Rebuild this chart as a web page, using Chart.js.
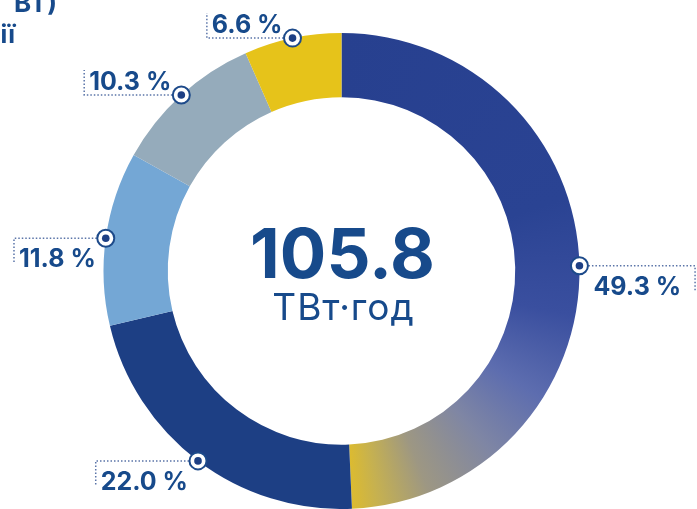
<!DOCTYPE html>
<html>
<head>
<meta charset="utf-8">
<script src="https://cdn.jsdelivr.net/npm/chart.js@4"></script>
<style>
  html, body { margin: 0; padding: 0; background: #ffffff; }
  #wrap { width: 697px; height: 509px; position: relative; overflow: hidden; }
</style>
</head>
<body>
<div id="wrap"><canvas id="c" width="697" height="509"></canvas></div>
<script>
// ---- data ----
const categories = ["Segment A", "Segment B", "Segment C", "Segment D", "Segment E"];
const shares = [49.3, 22.0, 11.8, 10.3, 6.6];
const shareLabels = ["49.3 %", "22.0 %", "11.8 %", "10.3 %", "6.6 %"];
const totalValue = "105.8";
const totalUnit = "ТВт·год";
const titleFragments = ["ВТ)", "ії"];

// ---- styles ----
const TEXT = "#174a8b";
const solidColors = [null, "#1d3f84", "#74a7d5", "#95abbb", "#e6c31a"];
const FONT = "Inter, 'DejaVu Sans', sans-serif";

function bigGradient(ctx, x, y) {
  const g = ctx.createConicGradient(-Math.PI / 2, x, y);
  g.addColorStop(0.00, "#27408f");
  g.addColorStop(0.20, "#2a4393");
  g.addColorStop(0.28, "#3a4f9f");
  g.addColorStop(0.34, "#5d6daf");
  g.addColorStop(0.39, "#7f86a4");
  g.addColorStop(0.44, "#9d9783");
  g.addColorStop(0.475, "#c6b150");
  g.addColorStop(0.493, "#dcbb30");
  g.addColorStop(0.50, "#dcbb30");
  g.addColorStop(1.00, "#dcbb30");
  return g;
}

const overlay = {
  id: "overlay",
  afterDatasetsDraw(chart) {
    const ctx = chart.ctx;
    const meta = chart.getDatasetMeta(0);
    const first = meta.data[0];
    const cx = first.x, cy = first.y, R = first.outerRadius;

    ctx.save();
    // center text
    ctx.fillStyle = TEXT;
    ctx.textAlign = "center";
    ctx.textBaseline = "alphabetic";
    ctx.font = "bold 69px " + FONT;
    ctx.fillText(totalValue, cx + 1, cy + 7);
    ctx.font = "37px " + FONT;
    ctx.letterSpacing = "1px";
    ctx.fillText(totalUnit, cx + 2, cy + 49);
    ctx.letterSpacing = "0px";

    // labels
    meta.data.forEach((arc, i) => {
      const mid = (arc.startAngle + arc.endAngle) / 2;
      const mx = cx + Math.cos(mid) * R;
      const my = cy + Math.sin(mid) * R;
      const right = mx > cx + 10;
      const above = my < cy - R * 0.5;
      ctx.font = "bold 25px " + FONT;
      const tw = ctx.measureText(shareLabels[i]).width;
      const L = right ? tw + 28 : tw + 15;
      const ex = right ? mx + L : mx - L;
      const vy = above ? my - 25 : my + 25;

      ctx.save();
      ctx.strokeStyle = "#5a74a8";
      ctx.lineWidth = 1.5;
      ctx.setLineDash([1.5, 2]);
      ctx.beginPath();
      ctx.moveTo(right ? mx + 9 : mx - 9, my);
      ctx.lineTo(ex, my);
      ctx.lineTo(ex, vy);
      ctx.stroke();
      ctx.restore();

      // marker
      ctx.beginPath();
      ctx.arc(mx, my, 8.5, 0, Math.PI * 2);
      ctx.fillStyle = "#ffffff";
      ctx.fill();
      ctx.lineWidth = 2;
      ctx.strokeStyle = "#1d4a8a";
      ctx.stroke();
      ctx.beginPath();
      ctx.arc(mx, my, 3.8, 0, Math.PI * 2);
      ctx.fillStyle = "#1d3f84";
      ctx.fill();

      ctx.fillStyle = TEXT;
      ctx.textAlign = "left";
      const tx = right ? mx + 14 : ex + 5;
      const ty = above ? my - 5 : my + 29;
      ctx.fillText(shareLabels[i], tx, ty);
    });

    // cropped title fragments
    ctx.fillStyle = TEXT;
    ctx.textAlign = "right";
    ctx.font = "bold 26px " + FONT;
    ctx.fillText(titleFragments[0], 57, 12);
    ctx.font = "bold 25px " + FONT;
    ctx.fillText(titleFragments[1], 15, 43);
    ctx.restore();
  }
};

new Chart(document.getElementById("c"), {
  type: "doughnut",
  data: {
    labels: categories,
    datasets: [{
      data: shares,
      backgroundColor(c) {
        if (c.dataIndex === 0) {
          const area = c.chart.chartArea;
          if (!area) return "#27408f";
          return bigGradient(c.chart.ctx, (area.left + area.right) / 2, (area.top + area.bottom) / 2);
        }
        return solidColors[c.dataIndex];
      },
      borderWidth: 0,
      hoverOffset: 0,
      offset: 0
    }]
  },
  options: {
    responsive: false,
    devicePixelRatio: 1,
    animation: false,
    events: [],
    cutout: "73%",
    layout: { padding: { top: 33, bottom: 0, left: 0, right: 14 } },
    plugins: { legend: { display: false }, tooltip: { enabled: false } }
  },
  plugins: [overlay]
});
</script>
</body>
</html>
